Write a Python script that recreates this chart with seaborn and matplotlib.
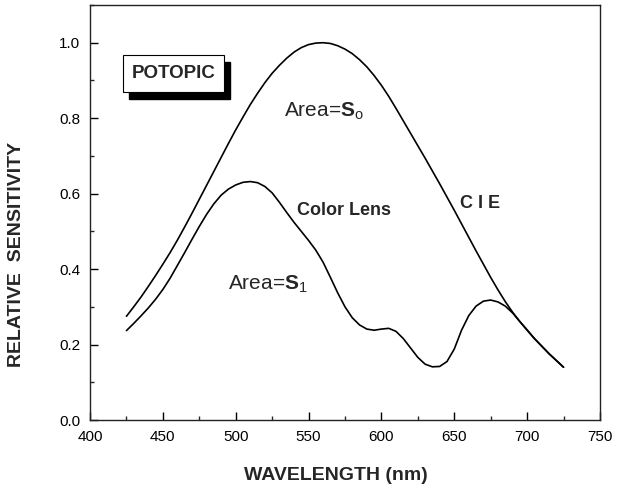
import matplotlib
matplotlib.use("Agg")
import matplotlib.pyplot as plt
from matplotlib.patches import Rectangle
from matplotlib.ticker import MultipleLocator
import seaborn as sns
import pandas as pd

wavelength = [425, 430, 435, 440, 445, 450, 455, 460, 465, 470, 475, 480, 485, 490, 495,
              500, 505, 510, 515, 520, 525, 530, 535, 540, 545, 550, 555, 560, 565, 570,
              575, 580, 585, 590, 595, 600, 605, 610, 615, 620, 625, 630, 635, 640, 645,
              650, 655, 660, 665, 670, 675, 680, 685, 690, 695, 700, 705, 710, 715, 720, 725]

cie = [0.275, 0.300, 0.326, 0.354, 0.383, 0.413, 0.444, 0.477, 0.512, 0.548, 0.585, 0.622,
       0.659, 0.696, 0.733, 0.769, 0.803, 0.836, 0.866, 0.894, 0.919, 0.940, 0.959, 0.975,
       0.987, 0.995, 0.999, 1.000, 0.998, 0.992, 0.983, 0.971, 0.955, 0.936, 0.913, 0.887,
       0.858, 0.826, 0.793, 0.760, 0.727, 0.694, 0.660, 0.626, 0.591, 0.556, 0.520, 0.484,
       0.448, 0.413, 0.378, 0.345, 0.314, 0.286, 0.261, 0.238, 0.216, 0.196, 0.176, 0.158, 0.140]

color_lens = [0.237, 0.256, 0.276, 0.297, 0.320, 0.346, 0.376, 0.410, 0.444, 0.479, 0.513,
              0.545, 0.573, 0.596, 0.612, 0.623, 0.630, 0.632, 0.629, 0.619, 0.602, 0.577,
              0.550, 0.524, 0.500, 0.476, 0.450, 0.418, 0.378, 0.337, 0.300, 0.271, 0.252,
              0.241, 0.238, 0.241, 0.243, 0.235, 0.216, 0.191, 0.166, 0.148, 0.141, 0.142,
              0.155, 0.188, 0.238, 0.277, 0.302, 0.315, 0.318, 0.313, 0.302, 0.284, 0.261,
              0.239, 0.216, 0.196, 0.176, 0.158, 0.140]

x_ticks = [400, 450, 500, 550, 600, 650, 700, 750]
y_ticks = [0.0, 0.2, 0.4, 0.6, 0.8, 1.0]
y_tick_labels = ["0.0", "0.2", "0.4", "0.6", "0.8", "1.0"]

sns.set_style("ticks")
plt.rcParams["font.family"] = ["Liberation Sans", "DejaVu Sans"]
plt.rcParams["mathtext.fontset"] = "custom"
plt.rcParams["mathtext.rm"] = "Liberation Sans"
plt.rcParams["mathtext.bf"] = "Liberation Sans:bold"
plt.rcParams["mathtext.it"] = "Liberation Sans:italic"

df = pd.DataFrame({
    "wavelength": wavelength * 2,
    "value": cie + color_lens,
    "series": ["CIE"] * len(wavelength) + ["Color Lens"] * len(wavelength),
})

fig = plt.figure(figsize=(6.23, 4.88), dpi=100)
ax = fig.add_axes([0.1445, 0.1393, 0.963 - 0.1445, 0.9898 - 0.1393])

sns.lineplot(data=df, x="wavelength", y="value", hue="series",
             palette={"CIE": "black", "Color Lens": "black"},
             linewidth=1.2, legend=False, ax=ax)
for ln in ax.lines:
    ln.set_solid_joinstyle("round")

ax.set_xlim(400, 750)
ax.set_ylim(0, 1.1)
ax.set_xticks(x_ticks)
ax.set_yticks(y_ticks)
ax.set_yticklabels(y_tick_labels)
ax.xaxis.set_minor_locator(MultipleLocator(25))
ax.yaxis.set_minor_locator(MultipleLocator(0.1))
ax.tick_params(which="major", direction="in", length=6, width=1, labelsize=11, pad=7,
               colors="black", top=False, right=False)
ax.tick_params(which="minor", direction="in", length=3, width=1, top=False, right=False)
for s in ax.spines.values():
    s.set_visible(True)
    s.set_linewidth(1.0)
    s.set_color("#222222")

ax.set_xlabel("WAVELENGTH (nm)", fontsize=14, fontweight="bold")
ax.set_ylabel("RELATIVE  SENSITIVITY", fontsize=14, fontweight="bold")
ax.xaxis.set_label_coords(0.482, -0.113)
ax.yaxis.set_label_coords(-0.127, 0.40)

# POTOPIC box with shadow
ax.add_patch(Rectangle((426.8, 0.851), 69.3, 0.099, facecolor="black", edgecolor="black", zorder=3))
ax.add_patch(Rectangle((422.6, 0.870), 69.4, 0.098, facecolor="white", edgecolor="black",
                       linewidth=0.8, zorder=4))
ax.text(457.3, 0.919, "POTOPIC", ha="center", va="center", fontsize=13.5,
        fontweight="bold", zorder=5)

ax.text(533, 0.805, r"Area=$\mathbf{S}_{\mathrm{o}}$", ha="left", va="baseline", fontsize=15)
ax.text(495, 0.345, r"Area=$\mathbf{S}_{\mathrm{1}}$", ha="left", va="baseline", fontsize=15)
ax.text(542, 0.544, "Color Lens", ha="left", va="baseline", fontsize=13, fontweight="bold")
ax.text(654, 0.562, "C I E", ha="left", va="baseline", fontsize=13, fontweight="bold")

fig.savefig("out.png", dpi=100)
